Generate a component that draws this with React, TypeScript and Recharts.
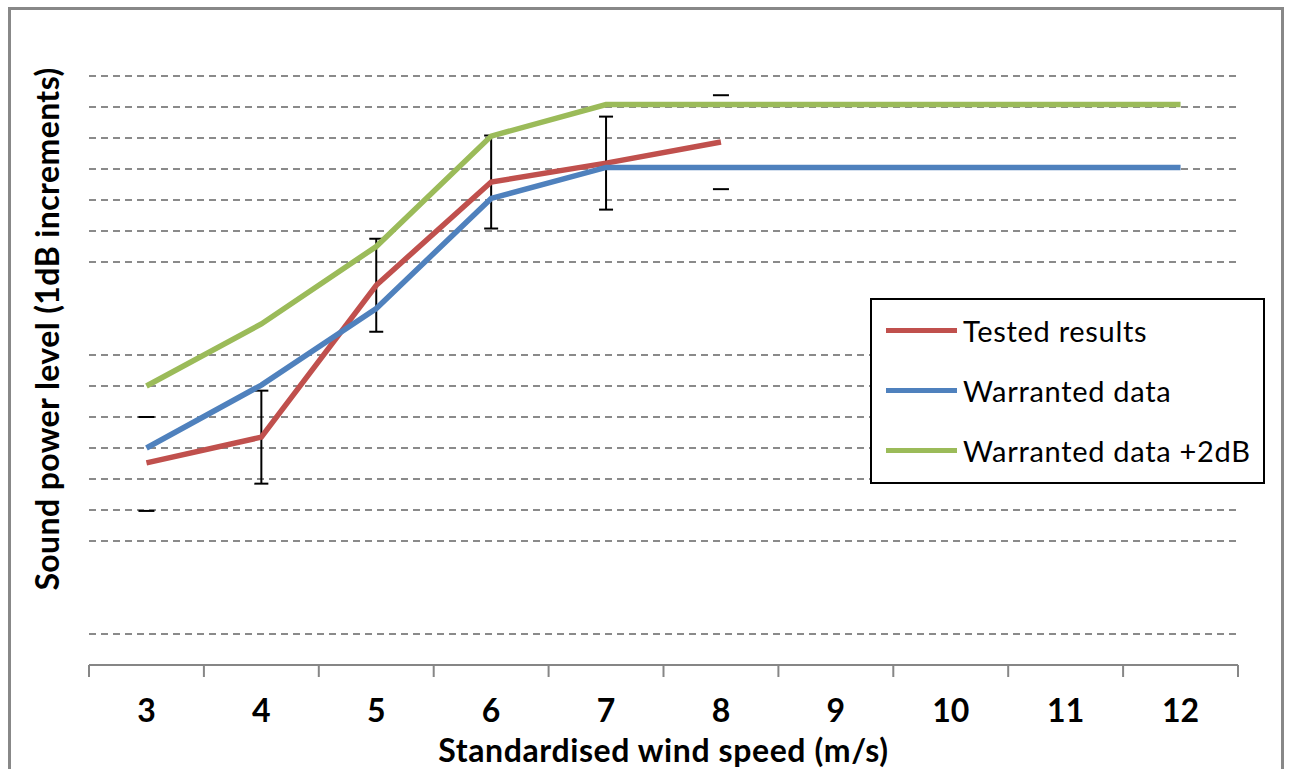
import { LineChart, Line, XAxis, YAxis, CartesianGrid, ErrorBar, Legend } from 'recharts';

const speeds = [3, 4, 5, 6, 7, 8, 9, 10, 11, 12];
const tested = [6.52, 7.35, 12.25, 15.58, 16.19, 16.87, null, null, null, null];
const testedErr = [null, 1.5, 1.5, 1.5, 1.5, null, null, null, null, null];
// the end points only carry the caps, no whisker line
const capHigh = [8.0, null, null, null, null, 18.38, null, null, null, null];
const capLow = [4.97, null, null, null, null, 15.35, null, null, null, null];
const warranted = [7.0, 9.03, 11.5, 15.05, 16.05, 16.05, 16.05, 16.05, 16.05, 16.05];
const warrantedPlus2 = [9.0, 11.0, 13.5, 17.06, 18.08, 18.08, 18.08, 18.08, 18.08, 18.08];
const gridValues = [1, 4, 5, 6, 7, 8, 9, 10, 13, 14, 15, 16, 17, 18, 19];
const xTicks = [2.5, 3, 3.5, 4, 4.5, 5, 5.5, 6, 6.5, 7, 7.5, 8, 8.5, 9, 9.5, 10, 10.5, 11, 11.5, 12, 12.5];

const legendItems = [
  { name: 'Tested results', color: '#C0504D' },
  { name: 'Warranted data', color: '#4F81BD' },
  { name: 'Warranted data +2dB', color: '#9BBB59' },
];

const data = speeds.map((x, i) => ({
  x,
  tested: tested[i],
  err: testedErr[i],
  capHigh: capHigh[i],
  capLow: capLow[i],
  warranted: warranted[i],
  plus2: warrantedPlus2[i],
}));

const FONT = 'Lato, "Open Sans", sans-serif';

const AxisTick = (props: any) => {
  const { x, y, payload } = props;
  const v = payload.value;
  if (Number.isInteger(v)) {
    return (
      <text x={x} y={y + 57} textAnchor="middle" fill="#000" fontFamily={FONT} fontWeight={700} fontSize={32}>
        {v}
      </text>
    );
  }
  return <line x1={x} x2={x} y1={y} y2={y + 12} stroke="#868686" strokeWidth={2} />;
};

const CapDot = (props: any) => {
  const { cx, cy, index } = props;
  if (cy == null || cx == null) return <g key={index} />;
  return <line key={index} x1={cx - 8} x2={cx + 8} y1={cy} y2={cy} stroke="#000" strokeWidth={2} />;
};

const LegendBox = () => (
  <div
    style={{
      width: 395,
      height: 186,
      border: '2px solid #000',
      boxSizing: 'border-box',
      background: '#fff',
    }}
  >
    {legendItems.map((it) => (
      <div key={it.name} style={{ display: 'flex', alignItems: 'center', height: 60 }}>
        <div style={{ width: 71, height: 5, background: it.color, marginLeft: 14, marginRight: 6 }} />
        <span style={{ fontFamily: FONT, fontSize: 29, color: '#000', letterSpacing: 0.7 }}>{it.name}</span>
      </div>
    ))}
  </div>
);

export default function App() {
  return (
    <div style={{ position: 'absolute', left: 0, top: 0, width: 1290, height: 769, overflow: 'hidden', background: '#fff' }}>
      <div
        style={{
          position: 'absolute',
          left: 8,
          top: 7,
          width: 1276,
          height: 800,
          border: '3px solid #888',
          boxSizing: 'border-box',
        }}
      />
      <div style={{ position: 'absolute', left: 0, top: 0 }}>
        <LineChart width={1290} height={769} data={data} margin={{ top: 45, right: 52, left: 0, bottom: 0 }}>
          <CartesianGrid
            vertical={false}
            horizontal
            stroke="#8a8a8a"
            strokeWidth={2}
            strokeDasharray="7 5"
            horizontalValues={gridValues}
          />
          <XAxis
            dataKey="x"
            type="number"
            domain={[2.5, 12.5]}
            ticks={xTicks}
            interval={0}
            tickLine={false}
            tickSize={0}
            tickMargin={0}
            tick={<AxisTick />}
            axisLine={{ stroke: '#868686', strokeWidth: 2 }}
            height={104}
            label={{
              value: 'Standardised wind speed (m/s)',
              position: 'insideBottom',
              offset: 7,
              style: { fontFamily: FONT, fontWeight: 700, fontSize: 32, fill: '#000', letterSpacing: 0.6 },
            }}
          />
          <YAxis
            type="number"
            domain={[0, 20]}
            ticks={gridValues}
            interval={0}
            width={89}
            tick={() => <g />}
            tickLine={false}
            axisLine={false}
            label={() => (
              <text
                x={46}
                y={329}
                transform="rotate(-90 46 329)"
                textAnchor="middle"
                dominantBaseline="central"
                fontFamily={FONT}
                fontWeight={700}
                fontSize={32}
                letterSpacing={0.4}
                fill="#000"
              >
                Sound power level (1dB increments)
              </text>
            )}
          />
          <Legend
            layout="horizontal"
            verticalAlign="middle"
            align="center"
            content={<LegendBox />}
            wrapperStyle={{ left: 870, top: 298, width: 395, height: 186 }}
          />
          <Line dataKey="tested" stroke="#C0504D" strokeWidth={5.5} dot={false} isAnimationActive={false}>
            <ErrorBar dataKey="err" width={7} stroke="#000" strokeWidth={2} direction="y" />
          </Line>
          <Line dataKey="capHigh" stroke="none" dot={<CapDot />} activeDot={false} isAnimationActive={false} legendType="none" />
          <Line dataKey="capLow" stroke="none" dot={<CapDot />} activeDot={false} isAnimationActive={false} legendType="none" />
          <Line dataKey="warranted" stroke="#4F81BD" strokeWidth={5.5} dot={false} isAnimationActive={false} />
          <Line dataKey="plus2" stroke="#9BBB59" strokeWidth={5.5} dot={false} isAnimationActive={false} />
        </LineChart>
      </div>
    </div>
  );
}
